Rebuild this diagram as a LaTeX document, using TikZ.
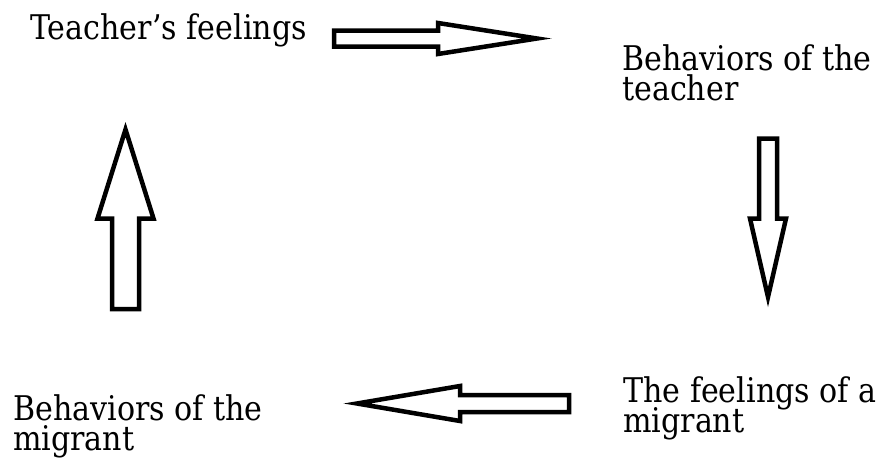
\documentclass[tikz,border=0pt]{standalone}
\usepackage{fontspec}
\setmainfont{DejaVu Serif}[FakeStretch=0.885]
\begin{document}
\begin{tikzpicture}[x=1pt,y=-1pt,
  lbl/.style={anchor=base west,inner sep=0pt,font=\fontsize{34}{34}\selectfont},
  blockarrow/.style={draw=black,line width=4.5pt,line join=miter,miter limit=20,fill=white}]
\useasboundingbox[fill=white] (0,0) rectangle (883,466);
% labels
\node[lbl] (tf) at (30,39) {Teacher’s feelings};
\node[lbl] (bta) at (622,70) {Behaviors of the};
\node[lbl] (btb) at (622,100) {teacher};
\node[lbl] (fma) at (623,402) {The feelings of a};
\node[lbl] (fmb) at (623,432) {migrant};
\node[lbl] (bma) at (13,420) {Behaviors of the};
\node[lbl] (bmb) at (13,450) {migrant};
% right arrow
\draw[blockarrow] (334,30.5) -- (438,30.5) -- (438,23) -- (537,38.5) -- (438,54) -- (438,46.5) -- (334,46.5) -- cycle;
% down arrow
\draw[blockarrow] (759,138.5) -- (777,138.5) -- (777,218.5) -- (786,218.5) -- (768,297) -- (750,218.5) -- (759,218.5) -- cycle;
% up arrow
\draw[blockarrow] (112,309) -- (139,309) -- (139,218.5) -- (153.5,218.5) -- (125.5,129.5) -- (97.5,218.5) -- (112,218.5) -- cycle;
% left arrow
\draw[blockarrow] (569,395) -- (460,395) -- (460,386) -- (357,403.5) -- (460,421) -- (460,412) -- (569,412) -- cycle;
\end{tikzpicture}
\end{document}
